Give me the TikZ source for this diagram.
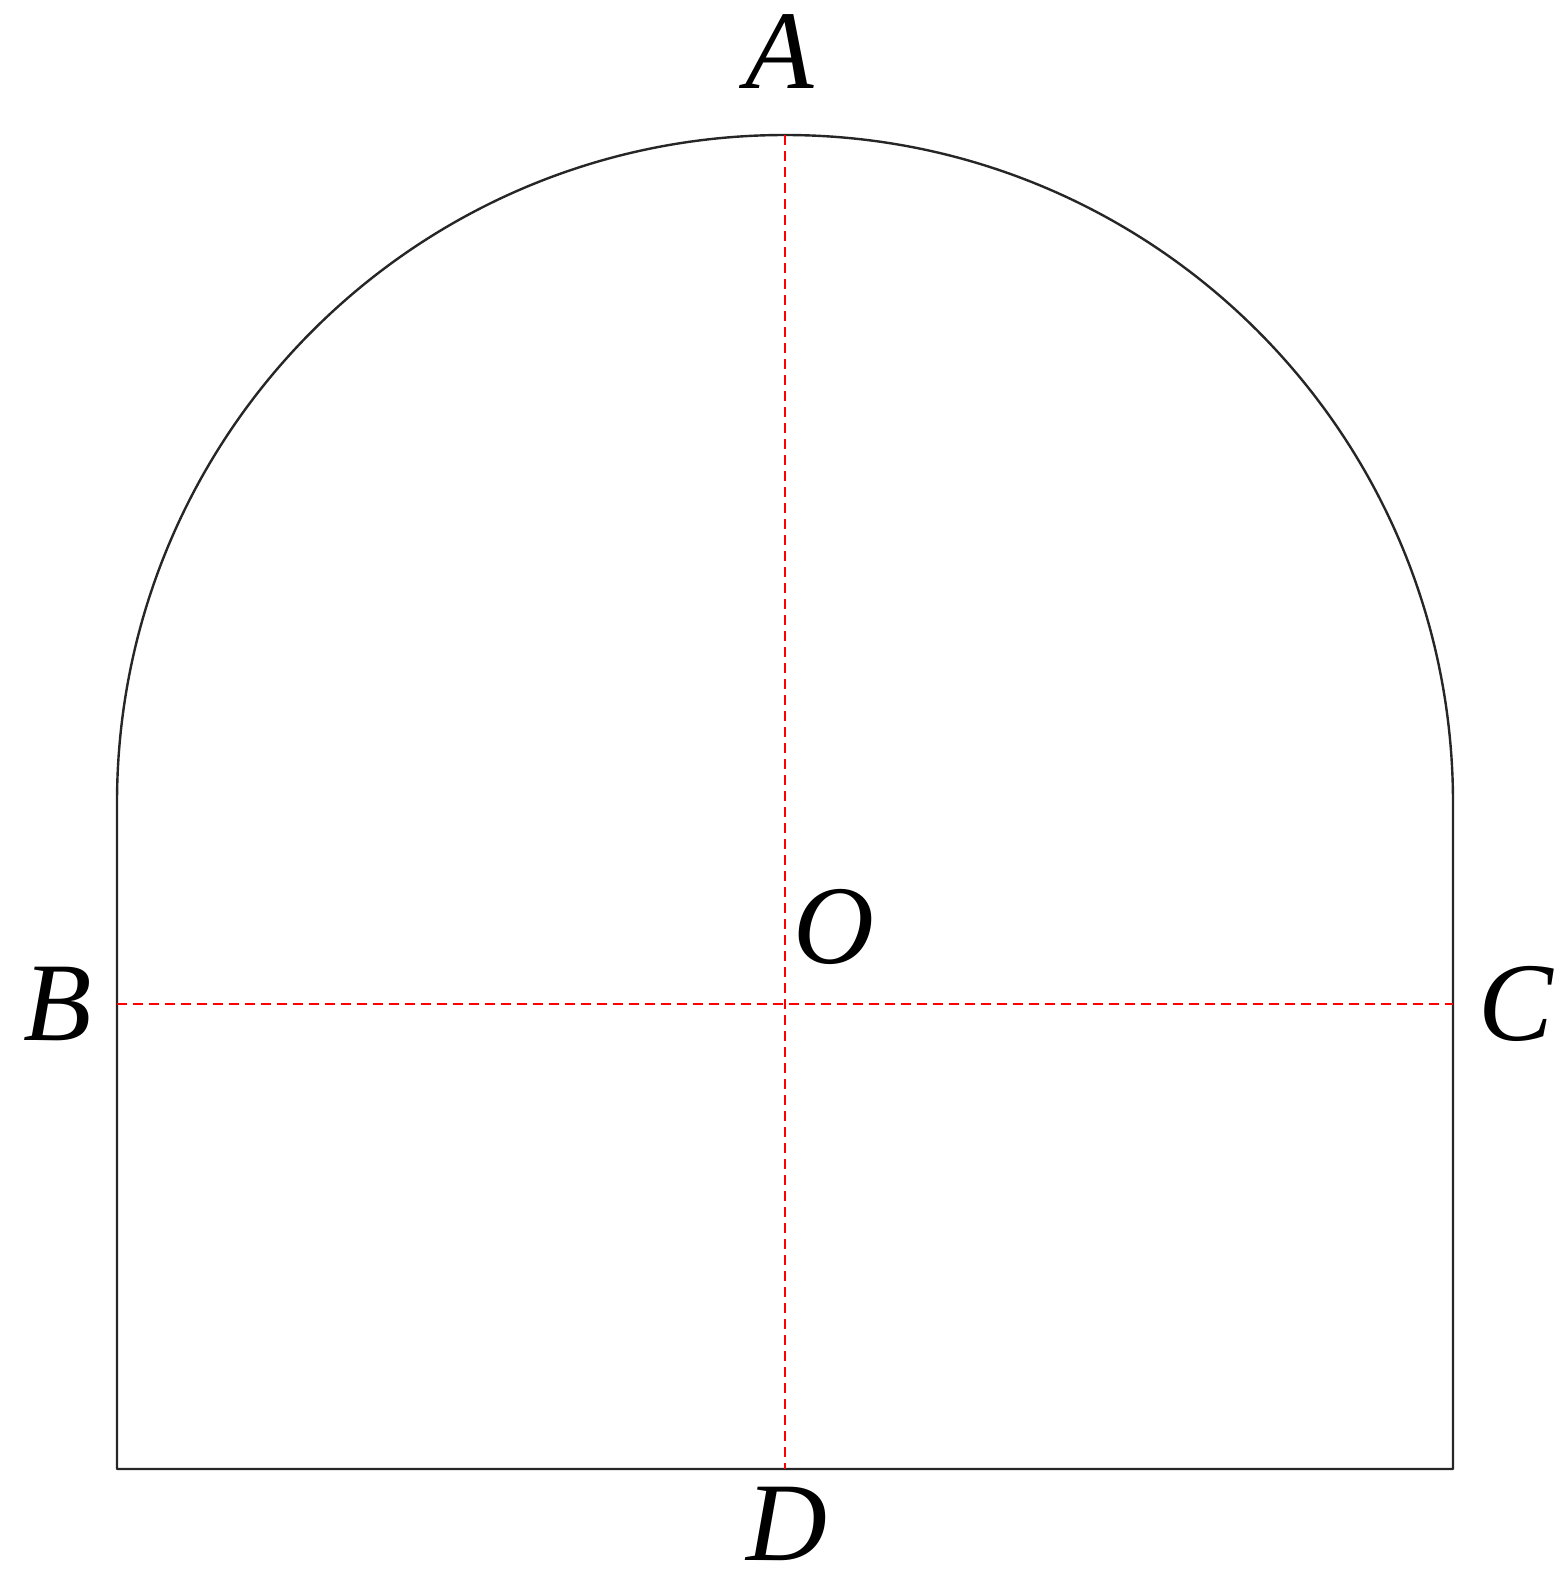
\documentclass[tikz,border=0pt]{standalone}
\usepackage{fontspec}
\setmainfont{Liberation Serif}
\begin{document}
\begin{tikzpicture}[x=0.5pt,y=-0.5pt,
  outline/.style={draw=black!85,line width=1.2pt,line join=round},
  axis/.style={draw=red,line width=1.1pt,dash pattern=on 5pt off 3pt},
  lbl/.style={inner sep=0pt,anchor=base,font=\fontsize{56}{60}\selectfont\itshape}]
\useasboundingbox (0,0) rectangle (1563,1585);
\coordinate (A) at (785,135);
\coordinate (B) at (117,1004);
\coordinate (C) at (1453,1004);
\coordinate (D) at (785,1469);
\coordinate (O) at (785,1004);
\draw[outline] (117,803) arc[start angle=180,end angle=360,radius=668] -- (1453,1469) -- (117,1469) -- cycle;
\draw[axis] (A) -- (D);
\draw[axis] (B) -- (C);
\node[lbl] (lA) at (780,88) {A};
\node[lbl] (lB) at (58,1040) {B};
\node[lbl] (lC) at (1516,1040) {C};
\node[lbl] (lO) at (834,963) {O};
\node[lbl] (lD) at (787,1560) {D};
\end{tikzpicture}
\end{document}
